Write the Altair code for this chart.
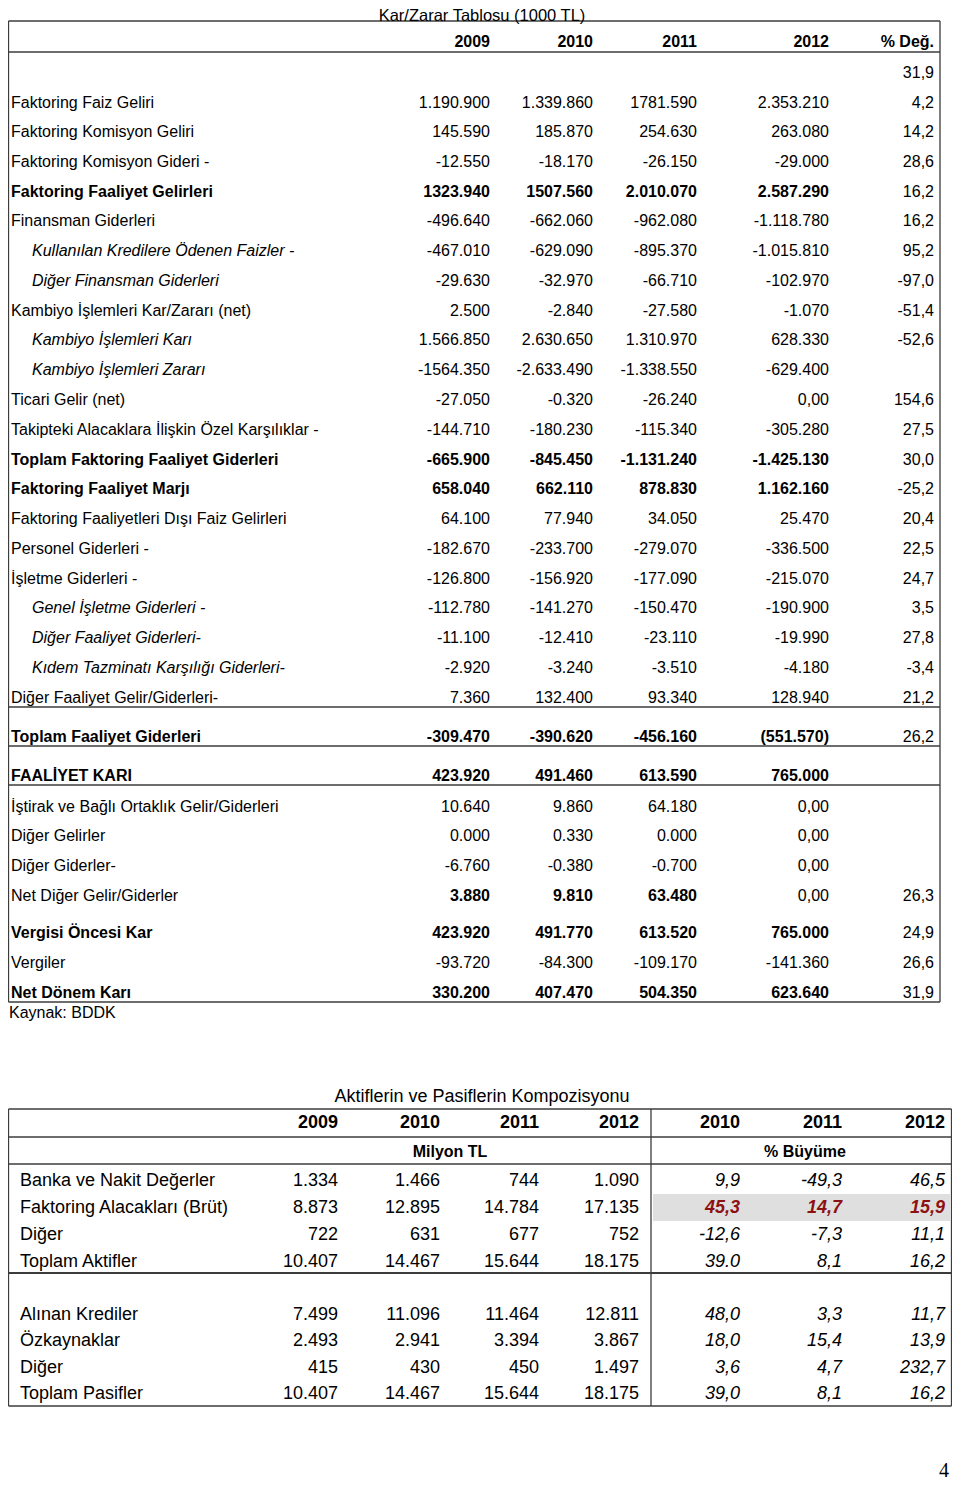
import altair as alt
import pandas as pd

# ---------------- data: Kar/Zarar Tablosu ----------------
T1_TITLE = "Kar/Zarar Tablosu (1000 TL)"
T1_HEADERS = ["2009", "2010", "2011", "2012", "% Değ."]
T1_LABELS = [
    "", "Faktoring Faiz Geliri", "Faktoring Komisyon Geliri", "Faktoring Komisyon Gideri -",
    "Faktoring Faaliyet Gelirleri", "Finansman Giderleri",
    "Kullanılan Kredilere Ödenen Faizler -", "Diğer Finansman Giderleri",
    "Kambiyo İşlemleri Kar/Zararı (net)", "Kambiyo İşlemleri Karı", "Kambiyo İşlemleri Zararı",
    "Ticari Gelir (net)", "Takipteki Alacaklara İlişkin Özel Karşılıklar -",
    "Toplam Faktoring Faaliyet Giderleri", "Faktoring Faaliyet Marjı",
    "Faktoring Faaliyetleri Dışı Faiz Gelirleri", "Personel Giderleri -", "İşletme Giderleri -",
    "Genel İşletme Giderleri -", "Diğer Faaliyet Giderleri-", "Kıdem Tazminatı Karşılığı Giderleri-",
    "Diğer Faaliyet Gelir/Giderleri-", "Toplam Faaliyet Giderleri", "FAALİYET KARI",
    "İştirak ve Bağlı Ortaklık Gelir/Giderleri", "Diğer Gelirler", "Diğer Giderler-",
    "Net Diğer Gelir/Giderler", "Vergisi Öncesi Kar", "Vergiler", "Net Dönem Karı",
]
T1_2009 = ["", "1.190.900", "145.590", "-12.550", "1323.940", "-496.640", "-467.010", "-29.630",
           "2.500", "1.566.850", "-1564.350", "-27.050", "-144.710", "-665.900", "658.040",
           "64.100", "-182.670", "-126.800", "-112.780", "-11.100", "-2.920", "7.360",
           "-309.470", "423.920", "10.640", "0.000", "-6.760", "3.880", "423.920", "-93.720", "330.200"]
T1_2010 = ["", "1.339.860", "185.870", "-18.170", "1507.560", "-662.060", "-629.090", "-32.970",
           "-2.840", "2.630.650", "-2.633.490", "-0.320", "-180.230", "-845.450", "662.110",
           "77.940", "-233.700", "-156.920", "-141.270", "-12.410", "-3.240", "132.400",
           "-390.620", "491.460", "9.860", "0.330", "-0.380", "9.810", "491.770", "-84.300", "407.470"]
T1_2011 = ["", "1781.590", "254.630", "-26.150", "2.010.070", "-962.080", "-895.370", "-66.710",
           "-27.580", "1.310.970", "-1.338.550", "-26.240", "-115.340", "-1.131.240", "878.830",
           "34.050", "-279.070", "-177.090", "-150.470", "-23.110", "-3.510", "93.340",
           "-456.160", "613.590", "64.180", "0.000", "-0.700", "63.480", "613.520", "-109.170", "504.350"]
T1_2012 = ["", "2.353.210", "263.080", "-29.000", "2.587.290", "-1.118.780", "-1.015.810", "-102.970",
           "-1.070", "628.330", "-629.400", "0,00", "-305.280", "-1.425.130", "1.162.160",
           "25.470", "-336.500", "-215.070", "-190.900", "-19.990", "-4.180", "128.940",
           "(551.570)", "765.000", "0,00", "0,00", "0,00", "0,00", "765.000", "-141.360", "623.640"]
T1_PCT = ["31,9", "4,2", "14,2", "28,6", "16,2", "16,2", "95,2", "-97,0", "-51,4", "-52,6", "",
          "154,6", "27,5", "30,0", "-25,2", "20,4", "22,5", "24,7", "3,5", "27,8", "-3,4", "21,2",
          "26,2", "", "", "", "", "26,3", "24,9", "26,6", "31,9"]
T1_SOURCE = "Kaynak: BDDK"

# ---------------- data: Aktiflerin ve Pasiflerin Kompozisyonu ----------------
T2_TITLE = "Aktiflerin ve Pasiflerin Kompozisyonu"
T2_HEADERS = ["2009", "2010", "2011", "2012", "2010", "2011", "2012"]
T2_GROUPS = ["Milyon TL", "% Büyüme"]
T2_LABELS = ["Banka ve Nakit Değerler", "Faktoring Alacakları (Brüt)", "Diğer", "Toplam Aktifler",
             "Alınan Krediler", "Özkaynaklar", "Diğer", "Toplam Pasifler"]
T2_2009 = ["1.334", "8.873", "722", "10.407", "7.499", "2.493", "415", "10.407"]
T2_2010 = ["1.466", "12.895", "631", "14.467", "11.096", "2.941", "430", "14.467"]
T2_2011 = ["744", "14.784", "677", "15.644", "11.464", "3.394", "450", "15.644"]
T2_2012 = ["1.090", "17.135", "752", "18.175", "12.811", "3.867", "1.497", "18.175"]
T2_G2010 = ["9,9", "45,3", "-12,6", "39.0", "48,0", "18,0", "3,6", "39,0"]
T2_G2011 = ["-49,3", "14,7", "-7,3", "8,1", "3,3", "15,4", "4,7", "8,1"]
T2_G2012 = ["46,5", "15,9", "11,1", "16,2", "11,7", "13,9", "232,7", "16,2"]
PAGE_NO = "4"

# ---------------- styles / layout ----------------
# row style: n = normal, b = bold row, i = italic indented label, v = bold values (first 3 years)
T1_STYLE = ["n", "n", "n", "n", "b", "n", "i", "i", "n", "i", "i", "n", "n", "b", "b", "n", "n", "n",
            "i", "i", "i", "n", "b", "b", "n", "n", "n", "v", "b", "n", "b"]
T2_HILITE_ROW = 1

FONT = "Liberation Sans"
LINE_C = "#3c3c3c"
RED = "#8e1111"
W, H = 944, 1481
XS = alt.Scale(domain=[8, 8 + W], range=[0, W], nice=False, zero=False)
YS = alt.Scale(domain=[8, 8 + H], range=[0, H], nice=False, zero=False)

T1_COL_X = [490, 593, 697, 829, 934]
T1_LABEL_X, T1_INDENT_X = 11, 32
T1_HEADER_Y = 42
T1_ROW_Y = [73, 103, 132, 162, 192, 221, 251, 281, 311, 340, 370, 400, 430, 460, 489, 519, 549,
            579, 608, 638, 668, 698, 737, 776, 807, 836, 866, 896, 933, 963, 993]
T1_H_LINES = [(8.5, 940, 21, 1.3), (8.5, 940, 52, 1.3), (8.5, 940, 707, 1.3), (8.5, 940, 746, 1.3),
              (8.5, 940, 785, 1.3), (8.5, 940, 1002, 1.3)]
T1_V_LINES = [(8.5, 21, 1002), (940, 21, 1002)]

T2_COL_X = [338, 440, 539, 639, 740, 842, 945]
T2_GROUP_X = [450, 805]
T2_LABEL_X = 20
T2_HEADER_Y, T2_GROUP_Y = 1123, 1152
T2_ROW_Y = [1181, 1208, 1235, 1262, 1315, 1341, 1368, 1394]
T2_H_LINES = [(8.5, 951.5, 1109, 1.3), (8.5, 951.5, 1137, 1.3), (8.5, 951.5, 1164, 1.3),
              (8.5, 951.5, 1273, 2.2), (8.5, 951.5, 1406, 1.5)]
T2_V_LINES = [(8.5, 1109, 1406), (651, 1109, 1406), (951.5, 1109, 1406)]
T2_HILITE_BOX = (653, 950, 1194, 1221)

cells = []


def cell(x, y, t, align="right", weight="normal", style="normal", size=16, color="black",
         font=FONT, baseline="middle"):
    if t == "":
        return
    cells.append(dict(x=x, y=y, t=t, align=align, weight=weight, style=style, size=size,
                      color=color, font=font, baseline=baseline))


# table 1
cell(482, 20.5, T1_TITLE, align="center", size=16.5, baseline="alphabetic")
for cx, h in zip(T1_COL_X, T1_HEADERS):
    cell(cx, T1_HEADER_Y, h, weight="bold")
years1 = [T1_2009, T1_2010, T1_2011, T1_2012]
for r, lab in enumerate(T1_LABELS):
    st = T1_STYLE[r]
    y = T1_ROW_Y[r]
    if st == "i":
        cell(T1_INDENT_X, y, lab, align="left", style="italic")
    else:
        cell(T1_LABEL_X, y, lab, align="left", weight="bold" if st == "b" else "normal")
    for c, col in enumerate(years1):
        bold = st == "b" or (st == "v" and c < 3)
        cell(T1_COL_X[c], y, col[r], weight="bold" if bold else "normal")
    cell(T1_COL_X[4], y, T1_PCT[r])
cell(9, 1013, T1_SOURCE, align="left")

# table 2
cell(482, 1097, T2_TITLE, align="center", size=18)
for cx, h in zip(T2_COL_X, T2_HEADERS):
    cell(cx, T2_HEADER_Y, h, weight="bold", size=18)
for gx, g in zip(T2_GROUP_X, T2_GROUPS):
    cell(gx, T2_GROUP_Y, g, align="center", weight="bold", size=16)
vals2 = [T2_2009, T2_2010, T2_2011, T2_2012]
grow2 = [T2_G2010, T2_G2011, T2_G2012]
for r, lab in enumerate(T2_LABELS):
    y = T2_ROW_Y[r]
    cell(T2_LABEL_X, y, lab, align="left", size=18)
    for c, col in enumerate(vals2):
        cell(T2_COL_X[c], y, col[r], size=18)
    for c, col in enumerate(grow2):
        hl = r == T2_HILITE_ROW
        cell(T2_COL_X[4 + c], y, col[r], size=18, style="italic",
             weight="bold" if hl else "normal", color=RED if hl else "black")
cell(944, 1471, PAGE_NO, align="center", size=20, font="Liberation Serif")

df = pd.DataFrame(cells)
keys = ["align", "weight", "style", "size", "color", "font", "baseline"]

layers = []

# highlight box
bx = pd.DataFrame([dict(x1=T2_HILITE_BOX[0], x2=T2_HILITE_BOX[1], y1=T2_HILITE_BOX[2], y2=T2_HILITE_BOX[3])])
layers.append(alt.Chart(bx).mark_rect(color="#dfdfdf").encode(
    x=alt.X("x1:Q", scale=XS, axis=None), x2="x2:Q",
    y=alt.Y("y1:Q", scale=YS, axis=None), y2="y2:Q"))

hl = pd.DataFrame(T1_H_LINES + T2_H_LINES, columns=["x1", "x2", "y", "w"])
layers.append(alt.Chart(hl).mark_rule(color=LINE_C).encode(
    x=alt.X("x1:Q", scale=XS, axis=None), x2="x2:Q",
    y=alt.Y("y:Q", scale=YS, axis=None),
    strokeWidth=alt.StrokeWidth("w:Q", scale=None)))
vl = pd.DataFrame(T1_V_LINES + T2_V_LINES, columns=["x", "y1", "y2"])
layers.append(alt.Chart(vl).mark_rule(color=LINE_C, strokeWidth=1.3).encode(
    x=alt.X("x:Q", scale=XS, axis=None),
    y=alt.Y("y1:Q", scale=YS, axis=None), y2="y2:Q"))

for k, sub in df.groupby(keys):
    props = dict(zip(keys, k))
    layers.append(alt.Chart(sub[["x", "y", "t"]].reset_index(drop=True)).mark_text(
        align=props["align"], baseline=props["baseline"], fontWeight=props["weight"],
        fontStyle=props["style"], fontSize=float(props["size"]), color=props["color"],
        font=props["font"]).encode(
        x=alt.X("x:Q", scale=XS, axis=None),
        y=alt.Y("y:Q", scale=YS, axis=None),
        text="t:N"))

chart = alt.layer(*layers).properties(
    width=W, height=H, padding=0, autosize=alt.AutoSizeParams(type="none"),
    background="white"
).configure_view(stroke=None)

chart.save("out.html", embed_options={"renderer": "svg", "actions": False})
